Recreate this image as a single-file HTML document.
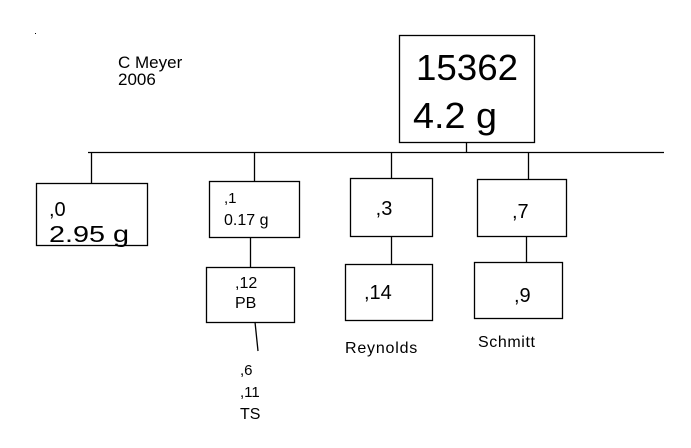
<!DOCTYPE html>
<html><head><style>
body{margin:0;background:#fff;}
svg text{font-family:"Liberation Sans",sans-serif;fill:#000;}
</style></head><body>
<svg width="691" height="443" viewBox="0 0 691 443" xmlns="http://www.w3.org/2000/svg">
<g fill="none" stroke="#000" stroke-width="1.3">
<rect x="399.5" y="35.5" width="135" height="107"/>
<line x1="466.5" y1="142" x2="466.5" y2="152"/>
<line x1="88" y1="152.5" x2="664" y2="152.5"/>
<line x1="91.5" y1="152" x2="91.5" y2="183"/>
<line x1="254.5" y1="152" x2="254.5" y2="181"/>
<line x1="391.5" y1="152" x2="391.5" y2="178"/>
<line x1="528.5" y1="152" x2="528.5" y2="179"/>
<rect x="36.5" y="183.5" width="111" height="62"/>
<rect x="209.5" y="181.5" width="90" height="56"/>
<rect x="350.5" y="178.5" width="82" height="58"/>
<rect x="477.5" y="179.5" width="89" height="57"/>
<line x1="250.5" y1="237" x2="250.5" y2="267"/>
<line x1="391.5" y1="236" x2="391.5" y2="264"/>
<line x1="526.5" y1="236" x2="526.5" y2="262"/>
<rect x="206.5" y="267.5" width="88" height="55"/>
<rect x="345.5" y="264.5" width="87" height="56"/>
<rect x="474.5" y="262.5" width="88" height="56"/>
<line x1="255" y1="322" x2="258" y2="351"/>
</g>
<rect x="35" y="33" width="1" height="1" fill="#000"/>
<text x="118" y="68" font-size="17">C Meyer</text>
<text x="118" y="85" font-size="17">2006</text>
<text x="416" y="80" font-size="36" textLength="102" lengthAdjust="spacingAndGlyphs">15362</text>
<text x="413" y="128" font-size="36" textLength="84" lengthAdjust="spacingAndGlyphs">4.2 g</text>
<text x="49" y="216" font-size="20">,0</text>
<text x="49" y="242" font-size="23" textLength="80" lengthAdjust="spacingAndGlyphs">2.95 g</text>
<text x="224" y="203" font-size="15">,1</text>
<text x="224" y="225" font-size="16">0.17 g</text>
<text x="384" y="215" font-size="20" text-anchor="middle">,3</text>
<text x="512" y="218" font-size="20">,7</text>
<text x="235" y="288" font-size="16">,12</text>
<text x="235" y="308" font-size="16">PB</text>
<text x="364" y="299" font-size="20">,14</text>
<text x="514" y="302" font-size="20">,9</text>
<text x="345" y="353" font-size="16" letter-spacing="0.8">Reynolds</text>
<text x="478" y="347" font-size="16" letter-spacing="0.6">Schmitt</text>
<text x="240" y="375" font-size="15">,6</text>
<text x="240" y="397" font-size="15">,11</text>
<text x="240" y="419" font-size="16">TS</text>
</svg>
</body></html>
